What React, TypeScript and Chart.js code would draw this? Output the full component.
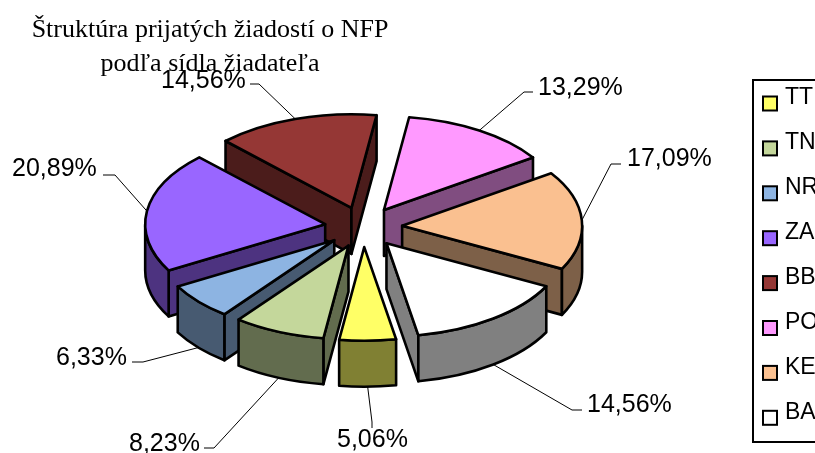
import React, { useEffect, useRef } from "react";
import { Chart, registerables } from "chart.js";

Chart.register(...registerables);

const categories = ["TT", "TN", "NR", "ZA", "BB", "PO", "KE", "BA"];
const shares = [5.06, 8.23, 6.33, 20.89, 14.56, 13.29, 17.09, 14.56];
const sliceColors = ["#FFFF66", "#C4D79B", "#8DB4E2", "#9966FF", "#953735", "#FF99FF", "#FAC090", "#FFFFFF"];
const titleLines = ["Štruktúra prijatých žiadostí o NFP", "podľa sídla žiadateľa"];

// label placement: text left edge, text centre y, leader start, leader elbow
const labelSpots = [
  { x: 337, y: 440, start: [372, 428], elbow: [372, 422] },
  { x: 129, y: 444, start: [204, 448], elbow: [214, 448] },
  { x: 56, y: 358, start: [132, 362], elbow: [143, 362] },
  { x: 12, y: 169, start: [103, 175], elbow: [115, 175] },
  { x: 161, y: 81, start: [250, 84], elbow: [259, 84] },
  { x: 538, y: 88, start: [533, 92], elbow: [524, 92] },
  { x: 627, y: 159, start: [621, 164], elbow: [611, 164] },
  { x: 587, y: 405, start: [582, 410], elbow: [572, 410] },
];

const CX = 363.5;
const CY = 227;
const FLATTEN = 0.52;
const EXPLODE = 38.7;
const DEPTH = 46;
const OUTLINE = 2.6;
const SANS = '"Liberation Sans", Arial, sans-serif';
const SERIF = '"Liberation Serif", "Times New Roman", serif';

const darken = (hex: string) => {
  const n = parseInt(hex.slice(1), 16);
  const c = [(n >> 16) & 255, (n >> 8) & 255, n & 255].map((v) => Math.round(v * 0.5));
  return `rgb(${c[0]},${c[1]},${c[2]})`;
};

const TAU = Math.PI * 2;

const tiltedPie = {
  id: "tiltedPie",
  afterLayout(chart: any) {
    const t = chart.titleBlock;
    t.left = 0;
    t.right = 420;
    t.top = 13;
    const l = chart.legend;
    l.left = 737.6;
    l.right = 900;
    l.top = 64.6;
    l.bottom = 800;
  },
  beforeDatasetDraw(chart: any, args: any) {
    const ctx = chart.ctx;
    const arcs = args.meta.data as any[];
    const order = arcs
      .map((arc, i) => ({ arc, i, mid: (arc.startAngle + arc.endAngle) / 2 }))
      .sort((p, q) => Math.sin(p.mid) - Math.sin(q.mid));
    ctx.save();
    ctx.lineWidth = OUTLINE;
    ctx.lineJoin = "round";
    ctx.strokeStyle = "#000";
    for (const { arc, mid } of order) {
      const R = arc.outerRadius;
      const tx = CX + EXPLODE * Math.cos(mid);
      const ty = CY + EXPLODE * FLATTEN * Math.sin(mid);
      const a0 = ((arc.startAngle % TAU) + TAU) % TAU;
      const a1 = a0 + (arc.endAngle - arc.startAngle);
      const wall = darken(arc.options.backgroundColor);
      const px = (a: number) => tx + R * Math.cos(a);
      const py = (a: number) => ty + R * FLATTEN * Math.sin(a);
      const radial = (a: number) => {
        ctx.beginPath();
        ctx.moveTo(tx, ty);
        ctx.lineTo(px(a), py(a));
        ctx.lineTo(px(a), py(a) + DEPTH);
        ctx.lineTo(tx, ty + DEPTH);
        ctx.closePath();
        ctx.fillStyle = wall;
        ctx.fill();
        ctx.stroke();
      };
      if (Math.cos(a0) < 0) radial(a0);
      if (Math.cos(a1) > 0) radial(a1);
      for (const [lo, hi] of [[0, Math.PI], [TAU, TAU + Math.PI]]) {
        const s = Math.max(a0, lo);
        const e = Math.min(a1, hi);
        if (e <= s) continue;
        ctx.beginPath();
        ctx.ellipse(tx, ty, R, R * FLATTEN, 0, s, e);
        ctx.ellipse(tx, ty + DEPTH, R, R * FLATTEN, 0, e, s, true);
        ctx.closePath();
        ctx.fillStyle = wall;
        ctx.fill();
        ctx.stroke();
      }
      ctx.save();
      ctx.translate(tx, ty);
      ctx.scale(1, FLATTEN);
      ctx.translate(-arc.x, -arc.y);
      arc.draw(ctx);
      ctx.restore();
      ctx.beginPath();
      ctx.moveTo(tx, ty);
      ctx.ellipse(tx, ty, R, R * FLATTEN, 0, a0, a1);
      ctx.closePath();
      ctx.stroke();
    }
    ctx.restore();
    return false;
  },
  afterDraw(chart: any) {
    const ctx = chart.ctx;
    const arcs = chart.getDatasetMeta(0).data as any[];
    ctx.save();
    // leaders and value labels
    ctx.strokeStyle = "#000";
    ctx.lineWidth = 1;
    ctx.fillStyle = "#000";
    ctx.font = `25px ${SANS}`;
    ctx.textBaseline = "middle";
    ctx.textAlign = "left";
    arcs.forEach((arc, i) => {
      const mid = (arc.startAngle + arc.endAngle) / 2;
      const R = arc.outerRadius;
      const s = Math.sin(mid);
      const tx = CX + EXPLODE * Math.cos(mid);
      const ty = CY + EXPLODE * FLATTEN * s;
      const ax = tx + R * Math.cos(mid);
      const ay = ty + R * FLATTEN * s + (s > 0 ? DEPTH : 0);
      const spot = labelSpots[i];
      ctx.beginPath();
      ctx.moveTo(spot.start[0], spot.start[1]);
      ctx.lineTo(spot.elbow[0], spot.elbow[1]);
      ctx.lineTo(ax, ay);
      ctx.stroke();
      ctx.fillText(`${shares[i].toFixed(2).replace(".", ",")}%`, spot.x, spot.y);
    });
    // legend frame and swatches
    ctx.lineWidth = 2;
    ctx.strokeRect(753, 80, 100, 362);
    categories.forEach((_, i) => {
      const y = 96.5 + 44.9 * i;
      ctx.fillStyle = sliceColors[i];
      ctx.fillRect(763, y, 14, 14);
      ctx.strokeRect(763, y, 14, 14);
    });
    ctx.restore();
  },
};

export default function App() {
  const ref = useRef<HTMLCanvasElement>(null);
  useEffect(() => {
    document.body.style.margin = "0";
    const chart = new Chart(ref.current as HTMLCanvasElement, {
      type: "pie",
      data: {
        labels: categories,
        datasets: [{ data: shares, backgroundColor: sliceColors, borderWidth: 0 }],
      },
      options: {
        responsive: false,
        animation: false,
        radius: 180,
        rotation: 169.8,
        layout: { padding: 0 },
        plugins: {
          tooltip: { enabled: false },
          title: {
            display: true,
            text: titleLines,
            color: "#000",
            padding: 0,
            font: { family: SERIF, size: 26, weight: "normal", lineHeight: 1.3 },
          },
          legend: {
            display: true,
            position: "right",
            align: "start",
            labels: {
              color: "#000",
              font: { family: SANS, size: 23 },
              boxWidth: 14,
              boxHeight: 14,
              padding: 21.9,
              generateLabels: (c: any) =>
                c.data.labels.map((text: string, index: number) => ({
                  text,
                  index,
                  hidden: false,
                  fillStyle: "rgba(0,0,0,0)",
                  strokeStyle: "rgba(0,0,0,0)",
                  lineWidth: 0,
                })),
            },
          },
        },
      } as any,
      plugins: [tiltedPie as any],
    });
    return () => chart.destroy();
  }, []);
  return <canvas ref={ref} width={815} height={453} style={{ display: "block", width: 815, height: 453 }} />;
}
